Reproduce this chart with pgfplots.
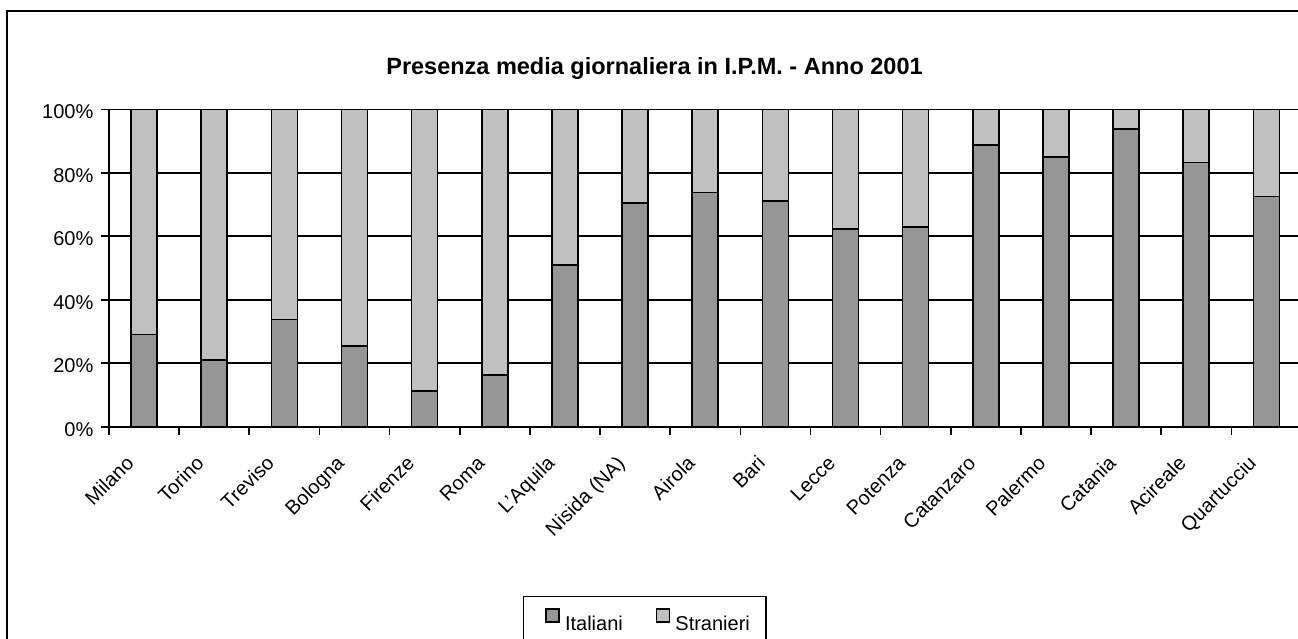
\documentclass[border=0pt]{standalone}
\usepackage{pgfplots}
\pgfplotsset{compat=1.18}
\usepackage{fontspec}
\setmainfont{Liberation Sans}
\definecolor{darkbar}{RGB}{150,150,150}
\definecolor{lightbar}{RGB}{192,192,192}
\begin{document}
\begin{tikzpicture}
\useasboundingbox (0,0) rectangle (1298pt,638pt);
\clip (0,0) rectangle (1298pt,638pt);
\fill[white] (0,0) rectangle (1298pt,638pt);
\draw[line width=2pt] (7.3pt,-20pt) rectangle (1330pt,626.7pt);
\node[anchor=base, font=\fontsize{23.5}{27}\selectfont\bfseries, inner sep=0pt] at (654.5pt,563.7pt) {Presenza media giornaliera in I.P.M. - Anno 2001};
\begin{axis}[
  at={(109pt,211.3pt)}, anchor=south west,
  scale only axis, width=1192.5pt, height=317.4pt,
  xmin=-0.5, xmax=16.5, ymin=0, ymax=100,
  clip=false,
  ybar stacked, bar width=26pt,
  axis lines=left,
  axis line style={-, black, line width=1.6pt},
  ytick={0,20,...,100},
  yticklabels={0\%,20\%,40\%,60\%,80\%,100\%},
  ymajorgrids, grid style={black, line width=1.6pt},
  xtick={0,...,16},
  xticklabels={Milano,Torino,Treviso,Bologna,Firenze,Roma,L'Aquila,Nisida (NA),Airola,Bari,Lecce,Potenza,Catanzaro,Palermo,Catania,Acireale,Quartucciu},
  minor xtick={-0.5,0.5,...,16.5},
  tick align=outside, major tick length=8pt, minor tick length=8pt,
  major x tick style={draw=none},
  minor x tick style={black, line width=1.6pt},
  ytick style={black, line width=1.6pt},
  xticklabel style={font=\fontsize{20}{24}\selectfont, inner sep=0pt, anchor=base east, xshift=-9pt, yshift=-30pt, rotate=45},
  yticklabel style={font=\fontsize{20}{24}\selectfont, inner sep=0pt, anchor=east, xshift=-7.5pt, yshift=-2.5pt},
  legend columns=2,
  legend image code/.code={\path (-6pt,0pt); \draw[#1] (0pt,2pt) rectangle (13pt,15pt);},
  legend style={at={(0.3469,-0.5325)}, anchor=north west, draw=black, line width=1.5pt,
    font=\fontsize{20}{24}\selectfont, inner xsep=16pt, inner ysep=12pt,
    nodes={inner sep=0pt},
    /tikz/every odd column/.append style={column sep=5pt},
    /tikz/every even column/.append style={column sep=27pt}},
]
\addplot[fill=darkbar, draw=black, line width=1.6pt] coordinates {
(0,29.1) (1,21.0) (2,33.8) (3,25.5) (4,11.2) (5,16.3) (6,50.9) (7,70.4) (8,73.8)
(9,71.1) (10,62.3) (11,62.9) (12,88.7) (13,85.0) (14,93.8) (15,83.3) (16,72.5)};
\addplot[fill=lightbar, draw=black, line width=1.6pt] coordinates {
(0,70.9) (1,79.0) (2,66.2) (3,74.5) (4,88.8) (5,83.7) (6,49.1) (7,29.6) (8,26.2)
(9,28.9) (10,37.7) (11,37.1) (12,11.3) (13,15.0) (14,6.2) (15,16.7) (16,27.5)};
\legend{Italiani,Stranieri}
\end{axis}
\end{tikzpicture}
\end{document}
